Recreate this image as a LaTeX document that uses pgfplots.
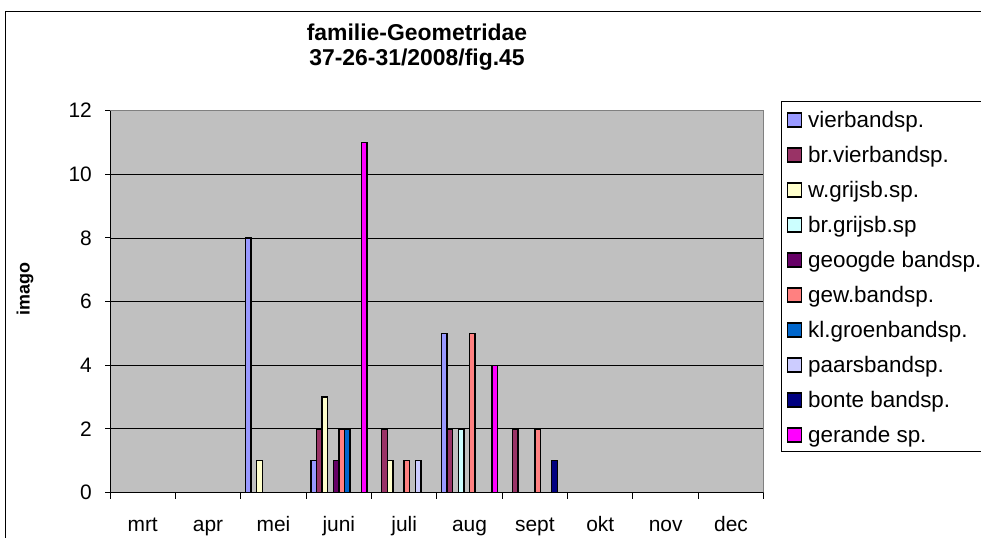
\documentclass[border=0pt]{standalone}
\usepackage{fontspec}
\setmainfont{Liberation Sans}
\usepackage{pgfplots}
\pgfplotsset{compat=1.18}
\definecolor{s1}{HTML}{9999FF}
\definecolor{s2}{HTML}{993366}
\definecolor{s3}{HTML}{FFFFCC}
\definecolor{s4}{HTML}{CCFFFF}
\definecolor{s5}{HTML}{660066}
\definecolor{s6}{HTML}{FF8080}
\definecolor{s7}{HTML}{0066CC}
\definecolor{s8}{HTML}{CCCCFF}
\definecolor{s9}{HTML}{000080}
\definecolor{s10}{HTML}{FF00FF}
\definecolor{plotbg}{HTML}{C0C0C0}
\definecolor{frame}{HTML}{808080}

\pgfplotsset{
  mybar/.style={fill=#1, draw=black, line width=1.4bp,
    legend image code/.code={
      \draw[fill=#1, draw=black, line width=1.4bp] (0bp,0bp) rectangle (14bp,14bp);
      \path (20bp,0bp);}},
}
\newcommand{\lent}[1]{\makebox[190bp][l]{#1}}

\begin{document}
\begin{tikzpicture}[x=1bp,y=1bp]
\useasboundingbox (0,0) rectangle (981,538);
\clip (0,0) rectangle (981,538);
\fill[white] (0,0) rectangle (981,538);
\draw[line width=1bp] (5,-20) rectangle (1010,526);

%% title
\node[font=\fontsize{23}{25}\selectfont\bfseries, anchor=base] at (417,497.5) {familie-Geometridae};
\node[font=\fontsize{23}{25}\selectfont\bfseries, anchor=base] at (417,472.5) {37-26-31/2008/fig.45};

%% y label
\node[rotate=90, font=\fontsize{18}{20}\selectfont\bfseries] at (25,249) {imago};

\begin{axis}[
  at={(110bp,45.4bp)}, anchor=south west,
  scale only axis,
  width=653.7bp, height=381.9bp,
  ybar=0pt, bar width=5.6bp,
  xmin=-0.5, xmax=9.5, ymin=0, ymax=12,
  xtick={0,...,9},
  xticklabels={mrt,apr,mei,juni,juli,aug,sept,okt,nov,dec},
  minor xtick={-0.5,0.5,...,9.5},
  ytick={0,2,...,12},
  tick align=outside,
  xtick pos=left, ytick pos=left,
  major tick length=5bp, minor tick length=6bp,
  major x tick style={draw=none},
  minor x tick style={draw=black, line width=1bp},
  major y tick style={draw=black, line width=1bp},
  ymajorgrids,
  major grid style={draw=black, line width=0.9bp},
  axis background/.style={fill=plotbg},
  axis line style={draw=frame, line width=1bp},
  /pgf/number format/assume math mode=true,
  ticklabel style={font=\fontsize{21}{21}\selectfont},
  yticklabel style={anchor=east, inner sep=0pt, xshift=-13bp},
  xticklabel style={anchor=base, inner sep=0pt, yshift=-34bp},
  legend style={at={(1.026,1.0262)}, anchor=north west,
    draw=black, line width=1bp, fill=white,
    inner xsep=5.5bp, inner ysep=7bp, row sep=14bp,
    font=\fontsize{22.5}{22.5}\selectfont,
    nodes={inner sep=0pt, text height=19bp, text depth=2bp, anchor=base west}},
]

\addplot[mybar=s1] coordinates {(2,8)(3,1)(5,5)};
\addplot[mybar=s2] coordinates {(3,2)(4,2)(5,2)(6,2)};
\addplot[mybar=s3] coordinates {(2,1)(3,3)(4,1)};
\addplot[mybar=s4] coordinates {(5,2)};
\addplot[mybar=s5] coordinates {(3,1)};
\addplot[mybar=s6] coordinates {(3,2)(4,1)(5,5)(6,2)};
\addplot[mybar=s7] coordinates {(3,2)};
\addplot[mybar=s8] coordinates {(4,1)};
\addplot[mybar=s9] coordinates {(6,1)};
\addplot[mybar=s10] coordinates {(3,11)(5,4)};

\legend{\lent{vierbandsp.},\lent{br.vierbandsp.},\lent{w.grijsb.sp.},\lent{br.grijsb.sp},\lent{geoogde bandsp.},\lent{gew.bandsp.},\lent{kl.groenbandsp.},\lent{paarsbandsp.},\lent{bonte bandsp.},\lent{gerande sp.}}

\draw[black, line width=1bp] (rel axis cs:0,1) -- (rel axis cs:0,0) -- (rel axis cs:1,0);
\end{axis}
\end{tikzpicture}
\end{document}
